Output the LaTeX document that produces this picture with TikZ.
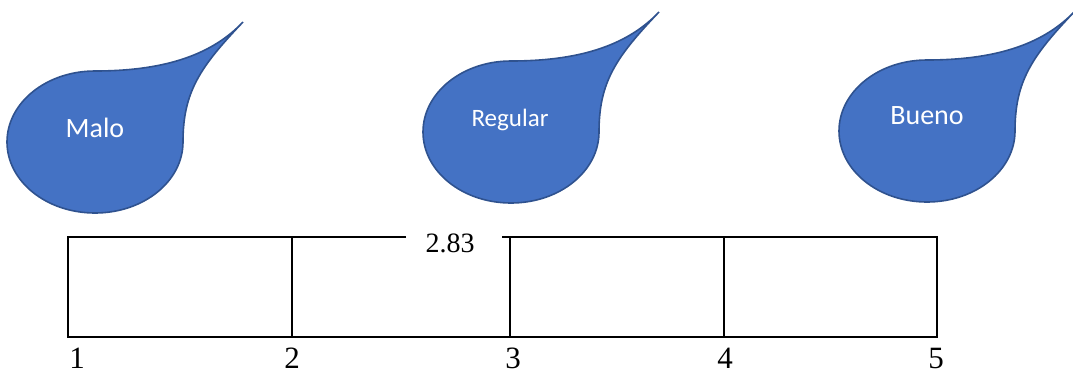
\documentclass[tikz,border=0pt]{standalone}
\usepackage{fontspec}
\setmainfont{Liberation Serif}
\newfontfamily\calibri{Carlito}
\usetikzlibrary{positioning}
\definecolor{dropblue}{HTML}{4472C4}
\definecolor{dropedge}{HTML}{2F528F}

\begin{document}
\begin{tikzpicture}[
  x = 1pt, y = -1pt,
  every node/.style = {inner sep=0pt},
  drop/.style = {fill=dropblue, draw=dropedge, line width=1.6pt},
  drop_txt/.style = {font=\calibri\fontsize{28}{30}\selectfont, text=white, anchor=base},
  scale_lbl/.style = {font=\fontsize{31}{33}\selectfont, anchor=base},
  grid/.style = {draw=black, line width=1.8pt},
  pics/gota/.style = {code={
    \path[drop] (148,-120) .. controls (105,-75) and (88,-50) .. (88,0)
      .. controls (88,39) and (49,71) .. (0,71)
      .. controls (-49,71) and (-88,39) .. (-88,0)
      .. controls (-88,-39) and (-49,-71) .. (0,-71)
      .. controls (65,-71) and (115,-85) .. (148,-120) -- cycle;
  }}
]
\useasboundingbox (0,0) rectangle (1073,373);

% drops
\pic at (95,142)  {gota};
\pic at (511,132) {gota};
\pic at (927,131) {gota};
\node[drop_txt]                             (malo)    at (95,137)  {Malo};
\node[drop_txt, font=\calibri\fontsize{25}{27}\selectfont] (regular) at (510,126) {Regular};
\node[drop_txt]                             (bueno)   at (927,124) {Bueno};

% scale
\draw[grid] (406,237) -| (68,337) -| (937,237) -- (502,237);
\foreach \x in {292,510,724}
  \draw[grid] (\x,237) -- (\x,337);
\node[scale_lbl, font=\fontsize{28}{30}\selectfont] (valor) at (450,252) {2.83};
\foreach \n/\x in {1/77,2/292,3/513,4/725,5/936}
  \node[scale_lbl] (n\n) at (\x,368) {\n};
\end{tikzpicture}
\end{document}
